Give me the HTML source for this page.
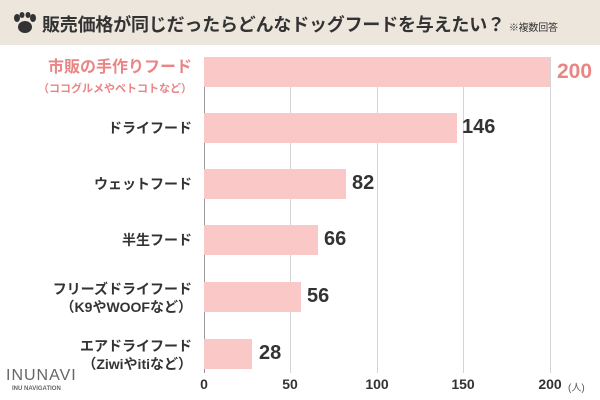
<!DOCTYPE html>
<html><head><meta charset="utf-8"><style>
body{margin:0;width:600px;height:400px;background:#fff;position:relative;overflow:hidden;font-family:"Liberation Sans","Noto Sans CJK JP",sans-serif;}
.hd{position:absolute;left:0;top:0;width:600px;height:45px;background:#ede6dd;}
.t{position:absolute;left:42px;top:11px;font-size:18px;font-weight:bold;color:#333;white-space:nowrap;letter-spacing:-0.2px;}
.t small{font-size:10px;font-weight:normal;margin-left:4px;}
.g{position:absolute;width:1px;background:#d5d5d5;top:57px;height:316px;}
.bar{position:absolute;left:204px;height:30px;background:#fbc8c8;}
.v{position:absolute;font-size:20px;font-weight:bold;color:#333;}
.l{position:absolute;right:408px;text-align:right;font-size:14px;font-weight:bold;color:#333;line-height:18px;white-space:nowrap;}
.x{position:absolute;top:376px;font-size:14px;font-weight:bold;color:#333;transform:translateX(-50%);}
</style></head><body>
<div class="hd"></div>
<svg style="position:absolute;left:12px;top:12px" width="26" height="22" viewBox="0 0 26 22"><g fill="#333"><ellipse cx="5" cy="6" rx="3" ry="4"/><ellipse cx="10" cy="3" rx="2.5" ry="3"/><ellipse cx="16" cy="3" rx="2.5" ry="3"/><ellipse cx="21" cy="6" rx="3" ry="4"/><ellipse cx="13" cy="15" rx="7" ry="6"/></g></svg>
<div class="t">販売価格が同じだったらどんなドッグフードを与えたい？<small>※複数回答</small></div>
<div class="g" style="left:204px;background:#999"></div>
<div class="g" style="left:290px"></div>
<div class="g" style="left:377px"></div>
<div class="g" style="left:463px"></div>
<div class="g" style="left:550px"></div>
<div class="bar" style="top:57px;width:346px"></div><div class="v" style="left:557px;top:60px;color:#e98585;font-size:21px">200</div>
<div class="bar" style="top:113px;width:253px"></div><div class="v" style="left:462px;top:116px">146</div>
<div class="bar" style="top:169px;width:142px"></div><div class="v" style="left:352px;top:172px">82</div>
<div class="bar" style="top:225px;width:114px"></div><div class="v" style="left:324px;top:228px">66</div>
<div class="bar" style="top:282px;width:97px"></div><div class="v" style="left:307px;top:285px">56</div>
<div class="bar" style="top:339px;width:48px"></div><div class="v" style="left:259px;top:342px">28</div>
<div class="l" style="top:58px;color:#e98585;font-size:16px;line-height:20px">市販の手作りフード<br><span style="font-size:11px">（ココグルメやペトコトなど）</span></div>
<div class="l" style="top:119px">ドライフード</div>
<div class="l" style="top:175px">ウェットフード</div>
<div class="l" style="top:231px">半生フード</div>
<div class="l" style="top:280px">フリーズドライフード<br>（K9やWOOFなど）</div>
<div class="l" style="top:337px">エアドライフード<br>（Ziwiやitiなど）</div>
<div class="x" style="left:204px">0</div><div class="x" style="left:290px">50</div><div class="x" style="left:377px">100</div><div class="x" style="left:463px">150</div><div class="x" style="left:550px">200</div>
<div style="position:absolute;left:568px;top:379px;font-size:10px;color:#555">(人)</div>
<div style="position:absolute;left:6px;top:367px;font-size:16px;color:#666;letter-spacing:1px">INUNAVI</div>
<div style="position:absolute;left:12px;top:386px;font-size:6px;color:#666;font-weight:bold">INU NAVIGATION</div>
</body></html>
